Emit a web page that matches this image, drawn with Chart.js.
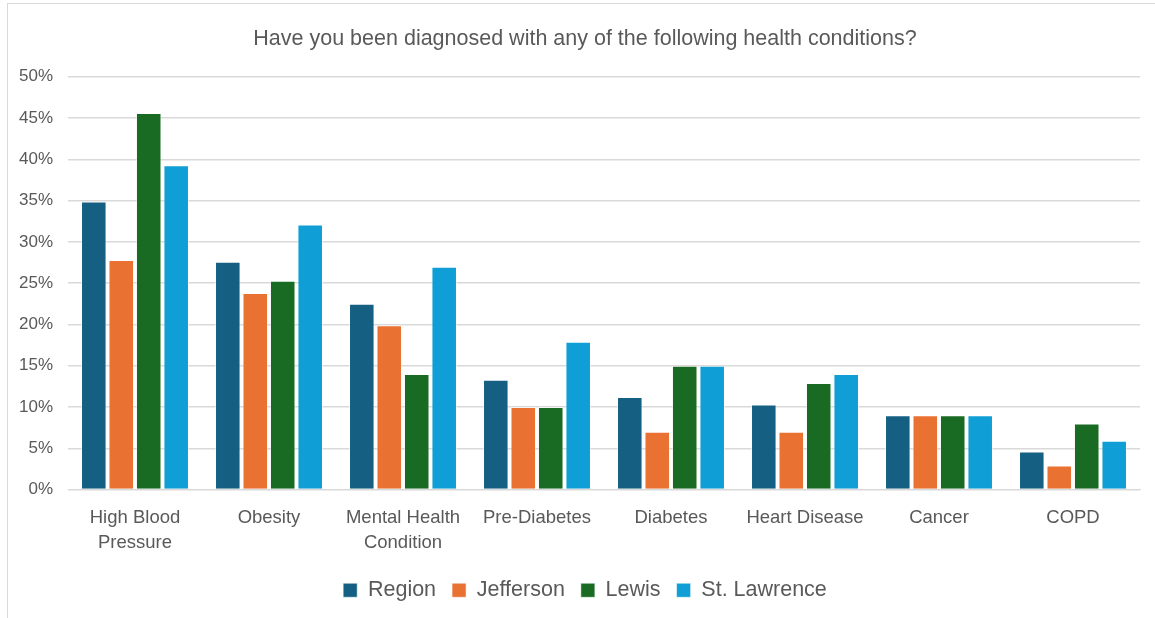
<!DOCTYPE html>
<html>
<head>
<meta charset="utf-8">
<script src="https://cdn.jsdelivr.net/npm/chart.js@4.4.0/dist/chart.umd.min.js"></script>
<style>
  html, body { margin: 0; padding: 0; background: #fff; }
  #frame { position: absolute; left: 7px; top: 3px; width: 1160px; height: 625px; border: 1px solid #d9d9d9; box-sizing: border-box; }
  #wrap { position: absolute; left: 0; top: 0; width: 1155px; height: 618px; }
</style>
</head>
<body>
<div id="frame"></div>
<div id="wrap"><canvas id="chart"></canvas></div>
<script>
// categories (multi-line labels as arrays)
var categories = [["High Blood", "Pressure"], "Obesity", ["Mental Health", "Condition"], "Pre-Diabetes", "Diabetes", "Heart Disease", "Cancer", "COPD"];
// series values in percent
var region     = [34.9, 27.6, 22.5, 13.3, 11.2, 10.3, 9.0, 4.6];
var jefferson  = [27.8, 23.8, 19.9, 10.0, 7.0, 7.0, 9.0, 2.9];
var lewis      = [45.6, 25.3, 14.0, 10.0, 15.0, 12.9, 9.0, 8.0];
var stLawrence = [39.3, 32.1, 27.0, 17.9, 15.0, 14.0, 9.0, 5.9];
var seriesNames = ["Region", "Jefferson", "Lewis", "St. Lawrence"];
var seriesColors = ["#156082", "#E97132", "#196B24", "#0F9ED5"];

var allSeries = [region, jefferson, lewis, stLawrence];
var datasets = [];
for (var i = 0; i < allSeries.length; i++) {
  datasets.push({
    label: seriesNames[i],
    data: allSeries[i],
    backgroundColor: seriesColors[i],
    borderColor: "rgba(255,255,255,0.5)",
    borderWidth: 1,
    categoryPercentage: 0.82,
    barPercentage: 0.93
  });
}

var txt = "#595959";
var fam = "Liberation Sans, Arial, sans-serif";
var chart = new Chart(document.getElementById("chart"), {
  type: "bar",
  data: { labels: categories, datasets: datasets },
  options: {
    responsive: true,
    maintainAspectRatio: false,
    animation: false,
    // left padding is wide so title/legend centre like the original; y labels overhang it
    layout: { padding: { left: 30, right: 15, top: 16, bottom: 7 } },
    plugins: {
      title: {
        display: true,
        text: "Have you been diagnosed with any of the following health conditions?",
        color: txt,
        font: { family: fam, size: 21.5, weight: "normal" },
        padding: { top: 10, bottom: 25 }
      },
      legend: {
        position: "bottom",
        labels: {
          color: txt,
          font: { family: fam, size: 21.5 },
          boxWidth: 14,
          boxHeight: 14,
          padding: 16
        }
      },
      tooltip: { enabled: false }
    },
    scales: {
      x: {
        grid: { display: false },
        border: { color: "#d9d9d9" },
        ticks: {
          color: txt,
          font: { family: fam, size: 18.5, lineHeight: 1.35 },
          maxRotation: 0,
          padding: 8
        }
      },
      y: {
        min: 0,
        max: 50,
        grid: { color: "#d9d9d9", lineWidth: 1.5, drawTicks: false },
        border: { display: false },
        afterFit: function (axis) {
          axis.width = 38;
          axis._computeLabelArea = function () { return undefined; }; // let labels overhang, no clip
        },
        ticks: {
          stepSize: 5,
          color: txt,
          font: { family: fam, size: 17 },
          padding: 15,
          callback: function (v) { return v + "%"; }
        }
      }
    }
  }
});
</script>
</body>
</html>
